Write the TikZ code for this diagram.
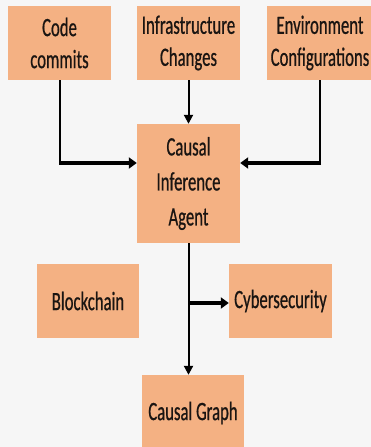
\documentclass[tikz,border=0pt]{standalone}
\usepackage{fontspec}
\setmainfont{Carlito}[FakeStretch=0.63, FakeBold=0.6]
\usetikzlibrary{arrows.meta}
\definecolor{boxfill}{HTML}{F4B183}
\definecolor{pagebg}{HTML}{F6F6F6}
\definecolor{inktext}{HTML}{1A1512}
\tikzset{
  x=1pt, y=-1pt,
  procbox/.style={fill=boxfill, draw=none, inner sep=0pt, align=center,
    minimum width=103pt, minimum height=74pt, text=inktext,
    font=\fontsize{26.5}{32}\selectfont},
  thinlink/.style={line width=2pt, draw=black},
  thicklink/.style={line width=3.5pt, draw=black},
  downtip/.style={-{Triangle[length=9pt,width=9pt]}},
  sidetip/.style={-{Triangle[length=8pt,width=11pt]}}
}
\begin{document}
\begin{tikzpicture}
  \fill[pagebg] (0,0) rectangle (371,447);
  \useasboundingbox (0,0) rectangle (371,447);
  \clip (0,0) rectangle (371,447);

  % source boxes
  \node[procbox] (code)  at (59.5,43)  {Code\\commits};
  \node[procbox] (infra) at (188.5,43) {Infrastructure\\Changes};
  \node[procbox, minimum width=106pt] (env) at (320,43) {Environment\\Configurations};

  % central agent
  \node[procbox, minimum height=119pt, font=\fontsize{26.5}{35}\selectfont]
    (agent) at (188.5,183.5) {Causal\\Inference\\Agent};

  % downstream boxes
  \node[procbox, minimum width=102pt] (block) at (88,301)  {Blockchain};
  \node[procbox] (cyber) at (280.5,301) {Cybersecurity};
  \node[procbox, minimum width=102pt, minimum height=76pt] (graph) at (193,413) {Causal Graph};

  % junction points
  \coordinate (jl) at (60,163);
  \coordinate (jr) at (env.south |- jl);
  \coordinate (jb) at (agent.south |- 0,303);

  % inputs into the agent
  \draw[thinlink] (code.south -| jl) -- (jl);
  \draw[thicklink, sidetip] ([xshift=-1pt]jl) -- (jl -| agent.west);
  \draw[thinlink] (env.south) -- (jr);
  \draw[thicklink, sidetip] ([xshift=1pt]jr) -- (jr -| agent.east);
  \draw[thinlink, downtip] (infra.south) -- (agent.north);

  % outputs from the agent
  \draw[thinlink, downtip] (agent.south) -- (agent.south |- graph.north);
  \draw[thicklink, sidetip] (jb) -- (jb -| cyber.west);
\end{tikzpicture}
\end{document}
